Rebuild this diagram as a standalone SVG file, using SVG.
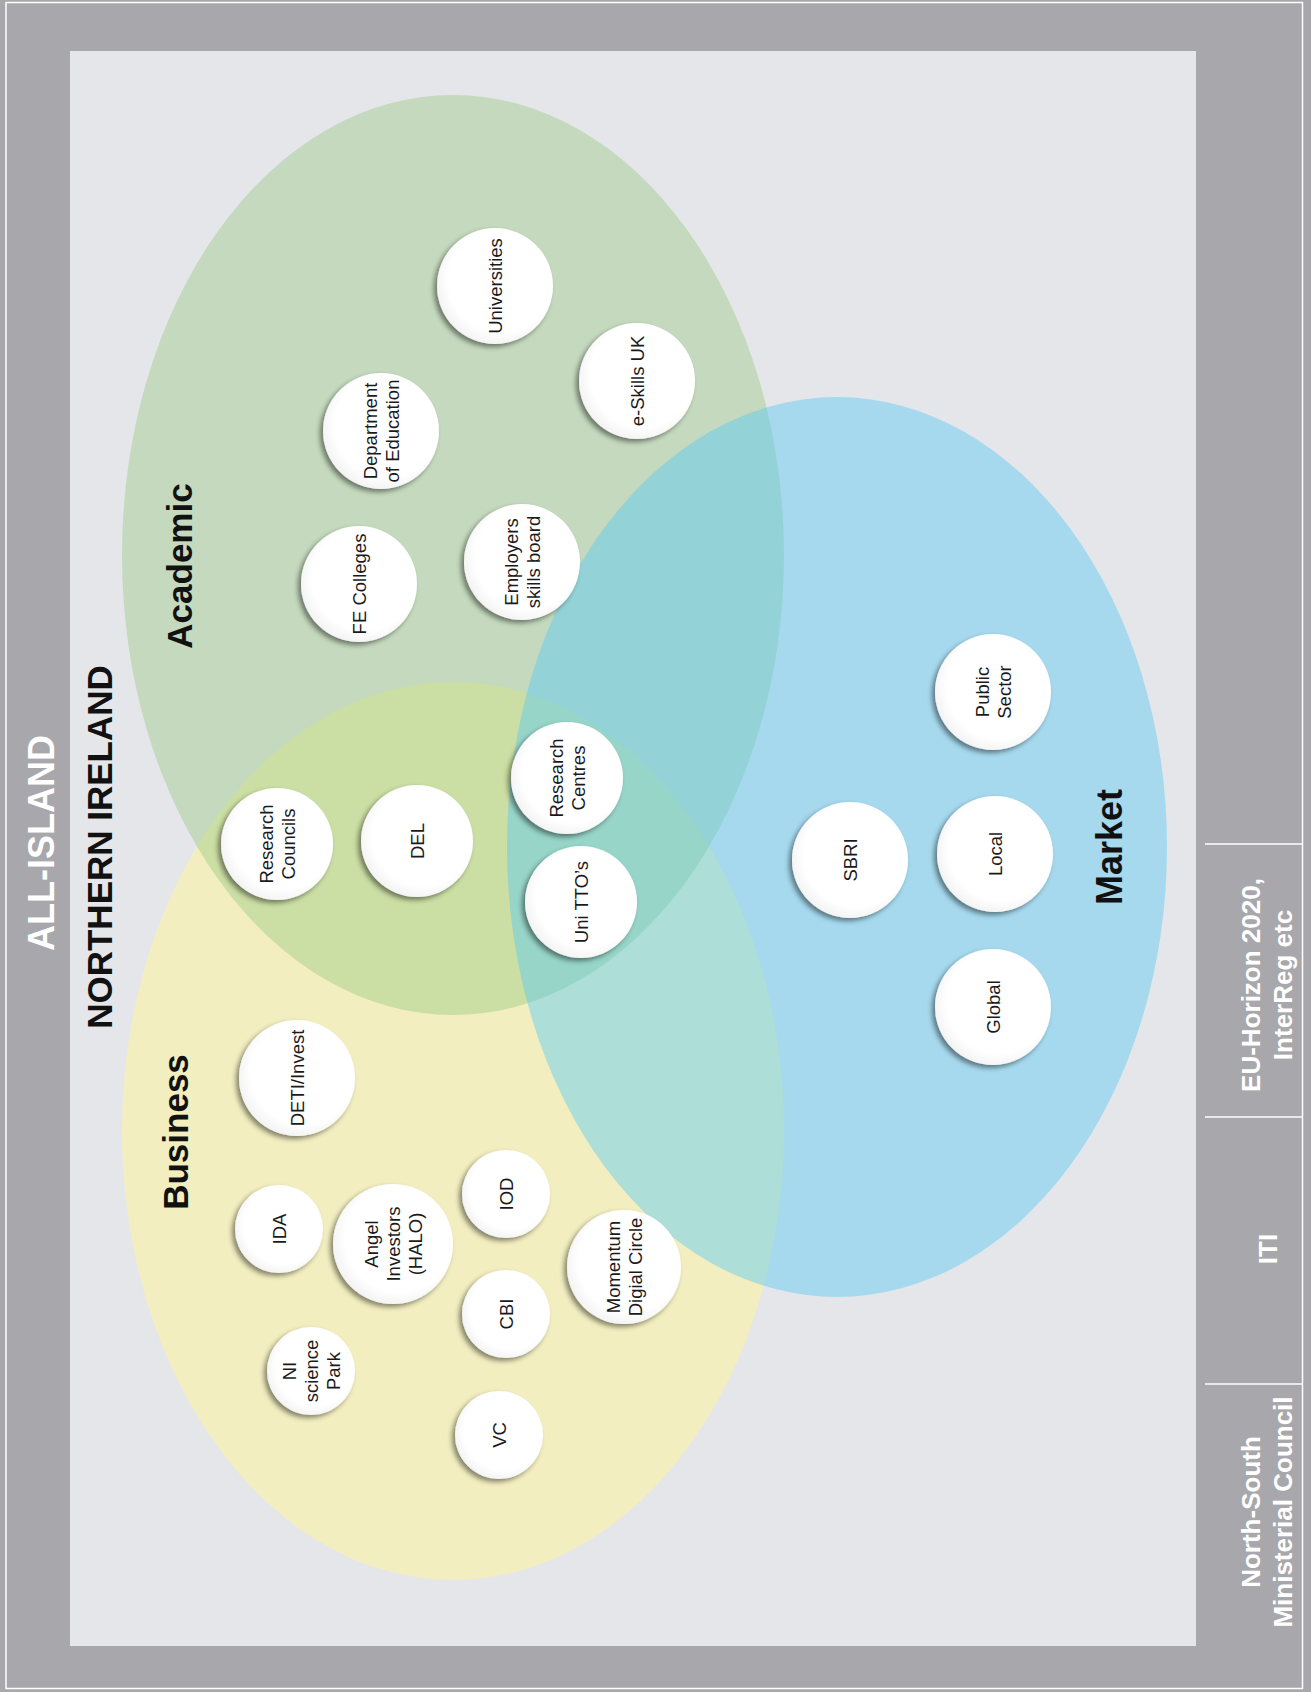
<svg xmlns="http://www.w3.org/2000/svg" width="1311" height="1692" viewBox="0 0 1311 1692">
  <defs>
    <filter id="sh" x="-30%" y="-30%" width="160%" height="160%">
      <feDropShadow dx="-3" dy="3" stdDeviation="2.5" flood-color="#000" flood-opacity="0.45"/>
    </filter>
    <radialGradient id="wg" cx="0.55" cy="0.45" r="0.6">
      <stop offset="0.75" stop-color="#ffffff"/>
      <stop offset="1" stop-color="#f0f0f0"/>
    </radialGradient>
    <style>
      .node circle { fill: url(#wg); filter: url(#sh); }
      .lbl { font-family: "Liberation Sans", Arial, sans-serif; font-size: 18.5px; fill: #1a1a1a; text-anchor: middle; }
      .set { font-family: "Liberation Sans", Arial, sans-serif; font-size: 35px; font-weight: bold; fill: #111; text-anchor: middle; }
      .side { font-family: "Liberation Sans", Arial, sans-serif; font-size: 26px; font-weight: bold; fill: #ffffff; text-anchor: middle; }
    </style>
  </defs>

  <!-- background frame -->
  <rect x="0" y="0" width="1311" height="1692" fill="#a8a8ac"/>
  <rect x="6" y="2.5" width="1296.5" height="1686" fill="none" stroke="#ffffff" stroke-width="1.5"/>
  <rect x="70" y="51" width="1126" height="1595" fill="#e5e6ea"/>

  <!-- right column dividers -->
  <g id="dividers" stroke="#ffffff" stroke-width="1.5">
    <line x1="1205" y1="844" x2="1303" y2="844"/>
    <line x1="1205" y1="1117" x2="1303" y2="1117"/>
    <line x1="1205" y1="1384" x2="1303" y2="1384"/>
  </g>

  <!-- sets -->
  <g id="set-business"><ellipse cx="453" cy="1131" rx="331" ry="449" fill="#f2eec0"/></g>
  <g id="set-academic"><ellipse cx="453" cy="555" rx="331" ry="460" fill="#95c87e" fill-opacity="0.42"/></g>
  <g id="set-market"><ellipse cx="837" cy="847" rx="330" ry="450" fill="#59c9f5" fill-opacity="0.45"/></g>

  <!-- titles -->
  <g id="title-all-island" transform="translate(54,843) rotate(-90)"><text class="set" style="fill:#ffffff;font-size:36px">ALL-ISLAND</text></g>
  <g id="title-ni" transform="translate(112,847) rotate(-90)"><text class="set">NORTHERN IRELAND</text></g>
  <g id="label-academic" transform="translate(192,566) rotate(-90)"><text class="set">Academic</text></g>
  <g id="label-business" transform="translate(188,1132) rotate(-90)"><text class="set">Business</text></g>
  <g id="label-market" transform="translate(1122,847) rotate(-90)"><text class="set" style="font-size:36px">Market</text></g>

  <!-- side column labels -->
  <g id="side-eu" transform="translate(1266,985) rotate(-90)"><text class="side" y="-6.5">EU-Horizon 2020,</text><text class="side" y="25.5">InterReg etc</text></g>
  <g id="side-iti" transform="translate(1268,1249) rotate(-90)"><text class="side" y="9">ITI</text></g>
  <g id="side-nsmc" transform="translate(1266,1512) rotate(-90)"><text class="side" y="-6.5">North-South</text><text class="side" y="25.5">Ministerial Council</text></g>

  <!-- connectors (none in this diagram) -->
  <g id="connectors"></g>

  <!-- nodes -->
  <g id="n-universities" class="node"><circle cx="495" cy="286" r="58"/><g transform="translate(495,286) rotate(-90)"><text class="lbl" y="6.5">Universities</text></g></g>
  <g id="n-eskills" class="node"><circle cx="637" cy="381" r="58"/><g transform="translate(637,381) rotate(-90)"><text class="lbl" y="6.5">e-Skills UK</text></g></g>
  <g id="n-doe" class="node"><circle cx="381" cy="431" r="58"/><g transform="translate(381,431) rotate(-90)"><text class="lbl" y="-4.5">Department</text><text class="lbl" y="17.5">of Education</text></g></g>
  <g id="n-fe" class="node"><circle cx="359" cy="584" r="58"/><g transform="translate(359,584) rotate(-90)"><text class="lbl" y="6.5">FE Colleges</text></g></g>
  <g id="n-employers" class="node"><circle cx="522" cy="562" r="58"/><g transform="translate(522,562) rotate(-90)"><text class="lbl" y="-4.5">Employers</text><text class="lbl" y="17.5">skills board</text></g></g>
  <g id="n-rcouncils" class="node"><circle cx="277" cy="844" r="56"/><g transform="translate(277,844) rotate(-90)"><text class="lbl" y="-4.5">Research</text><text class="lbl" y="17.5">Councils</text></g></g>
  <g id="n-del" class="node"><circle cx="417" cy="841" r="56"/><g transform="translate(417,841) rotate(-90)"><text class="lbl" y="6.5">DEL</text></g></g>
  <g id="n-rcentres" class="node"><circle cx="567" cy="778" r="56"/><g transform="translate(567,778) rotate(-90)"><text class="lbl" y="-4.5">Research</text><text class="lbl" y="17.5">Centres</text></g></g>
  <g id="n-unitto" class="node"><circle cx="581" cy="902" r="56"/><g transform="translate(581,902) rotate(-90)"><text class="lbl" y="6.5">Uni TTO’s</text></g></g>
  <g id="n-deti" class="node"><circle cx="297" cy="1078" r="58"/><g transform="translate(297,1078) rotate(-90)"><text class="lbl" y="6.5">DETI/Invest</text></g></g>
  <g id="n-ida" class="node"><circle cx="279" cy="1229" r="44"/><g transform="translate(279,1229) rotate(-90)"><text class="lbl" y="6.5">IDA</text></g></g>
  <g id="n-angel" class="node"><circle cx="393" cy="1244" r="60"/><g transform="translate(393,1244) rotate(-90)"><text class="lbl" y="-15.5">Angel</text><text class="lbl" y="6.5">Investors</text><text class="lbl" y="28.5">(HALO)</text></g></g>
  <g id="n-iod" class="node"><circle cx="506" cy="1194" r="44"/><g transform="translate(506,1194) rotate(-90)"><text class="lbl" y="6.5">IOD</text></g></g>
  <g id="n-momentum" class="node"><circle cx="624" cy="1267" r="57"/><g transform="translate(624,1267) rotate(-90)"><text class="lbl" y="-4.5">Momentum</text><text class="lbl" y="17.5">Digial Circle</text></g></g>
  <g id="n-cbi" class="node"><circle cx="506" cy="1314" r="44"/><g transform="translate(506,1314) rotate(-90)"><text class="lbl" y="6.5">CBI</text></g></g>
  <g id="n-nisp" class="node"><circle cx="311" cy="1371" r="44"/><g transform="translate(311,1371) rotate(-90)"><text class="lbl" y="-15.5">NI</text><text class="lbl" y="6.5">science</text><text class="lbl" y="28.5">Park</text></g></g>
  <g id="n-vc" class="node"><circle cx="499" cy="1435" r="44"/><g transform="translate(499,1435) rotate(-90)"><text class="lbl" y="6.5">VC</text></g></g>
  <g id="n-sbri" class="node"><circle cx="850" cy="860" r="58"/><g transform="translate(850,860) rotate(-90)"><text class="lbl" y="6.5">SBRI</text></g></g>
  <g id="n-local" class="node"><circle cx="995" cy="854" r="58"/><g transform="translate(995,854) rotate(-90)"><text class="lbl" y="6.5">Local</text></g></g>
  <g id="n-public" class="node"><circle cx="993" cy="692" r="58"/><g transform="translate(993,692) rotate(-90)"><text class="lbl" y="-4.5">Public</text><text class="lbl" y="17.5">Sector</text></g></g>
  <g id="n-global" class="node"><circle cx="993" cy="1007" r="58"/><g transform="translate(993,1007) rotate(-90)"><text class="lbl" y="6.5">Global</text></g></g>
</svg>
